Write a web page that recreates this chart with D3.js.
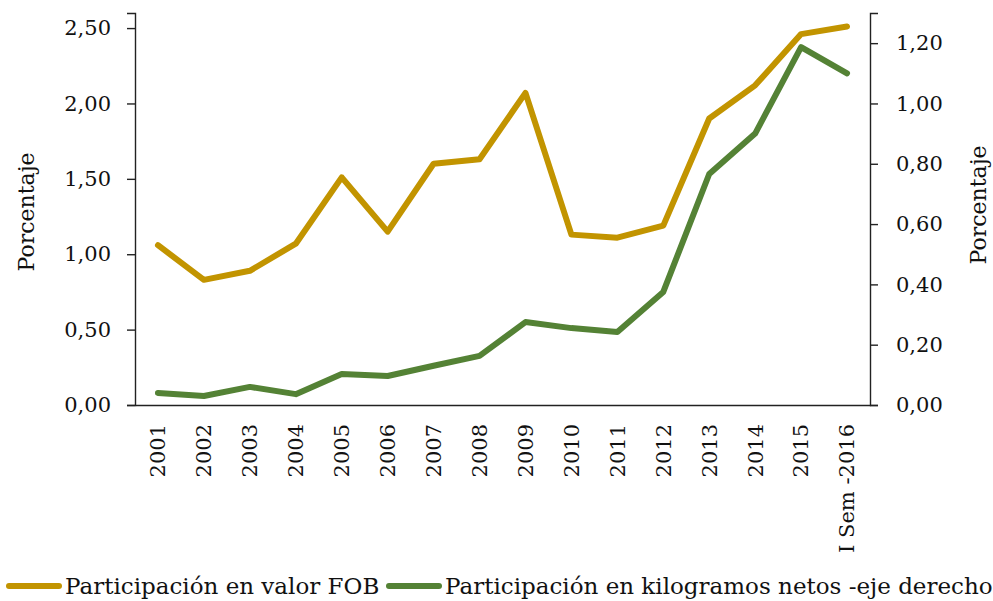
<!DOCTYPE html>
<html>
<head>
<meta charset="utf-8">
<script src="https://d3js.org/d3.v7.min.js"></script>
<style>
  body { margin: 0; background: #fff; }
  text { font-family: "DejaVu Serif", "Liberation Serif", serif; fill: #111; }
</style>
</head>
<body>
<div id="chart"></div>
<script>
// chart data
var years = ["2001", "2002", "2003", "2004", "2005", "2006", "2007", "2008",
  "2009", "2010", "2011", "2012", "2013", "2014", "2015", "I Sem -2016"];
var valorFOB = [1.06, 0.83, 0.89, 1.07, 1.51, 1.15, 1.60, 1.63,
  2.07, 1.13, 1.11, 1.19, 1.90, 2.12, 2.46, 2.51];
var kilosNetos = [0.04, 0.03, 0.06, 0.036, 0.103, 0.096, 0.13, 0.163,
  0.275, 0.255, 0.242, 0.375, 0.766, 0.90, 1.187, 1.10];
var leftTicks = [0, 0.5, 1, 1.5, 2, 2.5];
var rightTicks = [0, 0.2, 0.4, 0.6, 0.8, 1.0, 1.2];
var seriesNames = ["Participación en valor FOB", "Participación en kilogramos netos -eje derecho"];

var svgWidth = 993;
var svgHeight = 601;
var margin = { top: 13, right: 123, bottom: 196, left: 135 };
var chartWidth = svgWidth - margin.left - margin.right;
var chartHeight = svgHeight - margin.top - margin.bottom;

var colorFOB = "#c29400";
var colorKg = "#548235";

var es = d3.formatLocale({ decimal: ",", thousands: ".", grouping: [3], currency: ["", ""] });
var fmt = es.format(".2f");

var svg = d3.select("#chart")
  .append("svg")
  .attr("width", svgWidth)
  .attr("height", svgHeight);

var chartGroup = svg.append("g")
  .attr("transform", `translate(${margin.left}, ${margin.top})`);

// scales
var x = d3.scaleBand()
  .domain(years)
  .range([0, chartWidth]);

var yLeft = d3.scaleLinear()
  .domain([0, 2.6])
  .range([chartHeight, 0]);

var yRight = d3.scaleLinear()
  .domain([0, 1.3])
  .range([chartHeight, 0]);

// axes
var leftAxis = d3.axisLeft(yLeft).tickValues(leftTicks).tickFormat(fmt).tickSize(8).tickPadding(16);
var rightAxis = d3.axisRight(yRight).tickValues(rightTicks).tickFormat(fmt).tickSize(8).tickPadding(18);
var bottomAxis = d3.axisBottom(x).tickSize(0).tickPadding(0);

var gl = chartGroup.append("g").call(leftAxis);
var gr = chartGroup.append("g")
  .attr("transform", `translate(${chartWidth}, 0)`)
  .call(rightAxis);
var gb = chartGroup.append("g")
  .attr("transform", `translate(0, ${chartHeight})`)
  .call(bottomAxis);

[gl, gr, gb].forEach(function(g) {
  g.selectAll("path, line").attr("stroke", "#222").attr("stroke-width", 1.4);
  g.selectAll("text").style("font-size", "21px").attr("fill", "#111")
    .style("font-family", "'DejaVu Serif', serif");
});

gb.selectAll("text")
  .attr("transform", "rotate(-90)")
  .attr("text-anchor", "end")
  .attr("dy", "0.35em")
  .attr("x", -19)
  .attr("y", 0);

// axis titles
svg.append("text")
  .attr("transform", `translate(34, ${margin.top + 199}) rotate(-90)`)
  .attr("text-anchor", "middle")
  .style("font-size", "22px")
  .text("Porcentaje");

svg.append("text")
  .attr("transform", `translate(986, ${margin.top + 192}) rotate(-90)`)
  .attr("text-anchor", "middle")
  .style("font-size", "22px")
  .text("Porcentaje");

// lines
var cx = function(i) { return x(years[i]) + x.bandwidth() / 2; };

var lineLeft = d3.line()
  .x(function(d, i) { return cx(i); })
  .y(function(d) { return yLeft(d); });

var lineRight = d3.line()
  .x(function(d, i) { return cx(i); })
  .y(function(d) { return yRight(d); });

chartGroup.append("path")
  .datum(valorFOB)
  .attr("d", lineLeft)
  .attr("fill", "none")
  .attr("stroke", colorFOB)
  .attr("stroke-width", 6)
  .attr("stroke-linecap", "round")
  .attr("stroke-linejoin", "round");

chartGroup.append("path")
  .datum(kilosNetos)
  .attr("d", lineRight)
  .attr("fill", "none")
  .attr("stroke", colorKg)
  .attr("stroke-width", 6)
  .attr("stroke-linecap", "round")
  .attr("stroke-linejoin", "round");

// legend
var legendItems = [
  { name: seriesNames[0], color: colorFOB, x: 9 },
  { name: seriesNames[1], color: colorKg, x: 389 }
];

var legend = svg.append("g").attr("transform", "translate(0, 586)");
legendItems.forEach(function(item) {
  legend.append("line")
    .attr("x1", item.x).attr("x2", item.x + 50)
    .attr("y1", 0).attr("y2", 0)
    .attr("stroke", item.color)
    .attr("stroke-width", 6)
    .attr("stroke-linecap", "round");
  legend.append("text")
    .attr("x", item.x + 56)
    .attr("y", 8)
    .style("font-size", "23px")
    .text(item.name);
});
</script>
</body>
</html>
